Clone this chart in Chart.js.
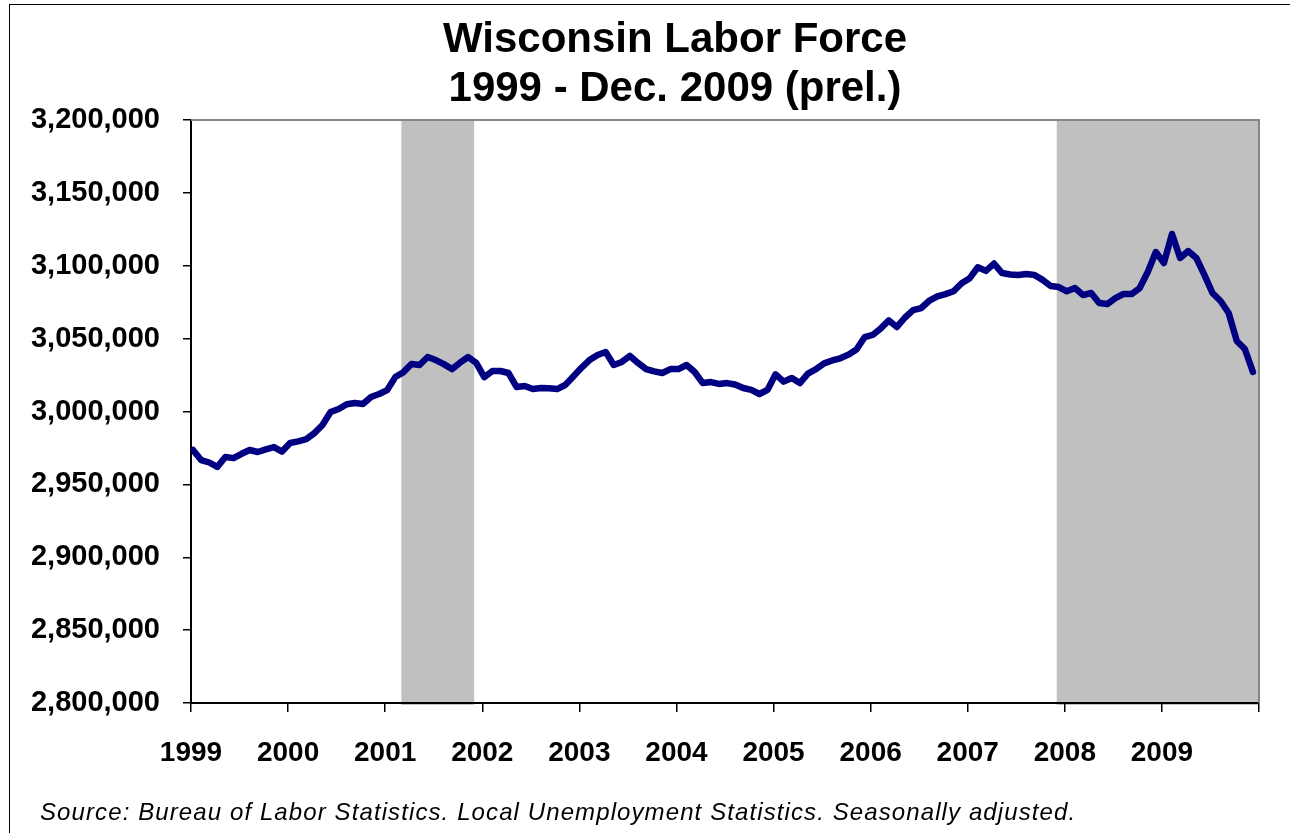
<!DOCTYPE html>
<html lang="en">
<head>
    <meta charset="UTF-8">
    <title>Wisconsin Labor Force</title>
    <script src="https://cdn.jsdelivr.net/npm/chart.js@4.4.0/dist/chart.umd.min.js"></script>
    <style>
        html, body { margin: 0; padding: 0; background: #fff; overflow: hidden; }
        #page { position: relative; width: 1290px; height: 833px; overflow: hidden; background: #fff; }
        #frame { position: absolute; left: 9px; top: 4px; width: 1400px; height: 1000px; border: 1.5px solid #000; box-sizing: border-box; }
        #title { position: absolute; left: 375px; top: 13px; width: 600px; text-align: center; font: bold 42px/49px "Liberation Sans", Arial, sans-serif; color: #000; }
        #source { position: absolute; left: 40px; top: 800px; font: italic 24px/24px "Liberation Sans", Arial, sans-serif; letter-spacing: 1.1px; white-space: nowrap; color: #000; }
        #chart { position: absolute; left: 0; top: 0; }
    </style>
</head>
<body>
<div id="page">
    <div id="frame"></div>
    <canvas id="chart" width="1290" height="833"></canvas>
    <div id="title">Wisconsin Labor Force<br>1999 - Dec. 2009 (prel.)</div>
    <div id="source">Source: Bureau of Labor Statistics. Local Unemployment Statistics. Seasonally adjusted.</div>
</div>
<script>
    // monthly labor force, seasonally adjusted
    const years = ['1999', '2000', '2001', '2002', '2003', '2004', '2005', '2006', '2007', '2008', '2009'];
    const lf1999 = [2973600, 2966700, 2965000, 2962000, 2968800, 2968000, 2971000, 2973600, 2972200, 2974000, 2975600, 2972500];
    const lf2000 = [2978400, 2979500, 2981000, 2985200, 2990700, 2999600, 3001700, 3005000, 3005800, 3005100, 3009900, 3012000];
    const lf2001 = [3014700, 3023600, 3027000, 3032600, 3031900, 3037400, 3035300, 3032500, 3029100, 3033500, 3037400, 3033300];
    const lf2002 = [3023600, 3027800, 3027800, 3026400, 3016800, 3017500, 3015400, 3016100, 3016000, 3015400, 3018200, 3024000];
    const lf2003 = [3030000, 3035300, 3038800, 3040800, 3031900, 3034000, 3038100, 3033300, 3029100, 3027500, 3026400, 3029100];
    const lf2004 = [3029100, 3031900, 3027100, 3019500, 3020200, 3018900, 3019500, 3018500, 3016100, 3014800, 3012000, 3014800];
    const lf2005 = [3025500, 3020500, 3023000, 3019500, 3026000, 3029000, 3033000, 3035000, 3036500, 3039000, 3042500, 3051000];
    const lf2006 = [3052500, 3057000, 3062500, 3058000, 3064500, 3069500, 3071000, 3076000, 3079000, 3080500, 3082500, 3088000];
    const lf2007 = [3091500, 3099000, 3096500, 3101500, 3095000, 3094000, 3093700, 3094300, 3093700, 3090300, 3086100, 3085400];
    const lf2008 = [3082500, 3084700, 3079900, 3081300, 3074400, 3073700, 3077800, 3080600, 3080600, 3084700, 3095700, 3109400];
    const lf2009 = [3101900, 3121800, 3105300, 3110100, 3105300, 3093700, 3081300, 3075800, 3067600, 3048400, 3042900, 3027100];

    // recessions (first month, last month)
    const recessionStart = ['2001-03', '2007-12'];
    const recessionEnd = ['2001-11', '2009-12'];

    const yMin = 2800000, yMax = 3200000, yStep = 50000;

    const laborForce = [].concat(lf1999, lf2000, lf2001, lf2002, lf2003, lf2004, lf2005, lf2006, lf2007, lf2008, lf2009);
    const monthIndex = s => {
        const [y, m] = s.split('-').map(Number);
        return (y - Number(years[0])) * 12 + (m - 1);
    };
    const totalMonths = years.length * 12;
    const points = laborForce.map((v, i) => ({ x: i + 0.25, y: v }));

    const FONT = '"Liberation Sans", Arial, sans-serif';

    const shading = {
        id: 'shading',
        beforeDraw(chart) {
            const { ctx, chartArea, scales } = chart;
            ctx.save();
            ctx.fillStyle = '#C0C0C0';
            recessionStart.forEach((s, k) => {
                const x0 = scales.x.getPixelForValue(monthIndex(s));
                const x1 = scales.x.getPixelForValue(Math.min(monthIndex(recessionEnd[k]) + 1, totalMonths));
                ctx.fillRect(x0, chartArea.top, x1 - x0, chartArea.bottom - chartArea.top + 2);
            });
            ctx.restore();
        },
        afterDraw(chart) {
            // plot area border (top and right)
            const { ctx, chartArea } = chart;
            ctx.save();
            ctx.strokeStyle = '#868686';
            ctx.lineWidth = 2;
            ctx.beginPath();
            ctx.moveTo(chartArea.left, chartArea.top);
            ctx.lineTo(chartArea.right, chartArea.top);
            ctx.lineTo(chartArea.right, chartArea.bottom);
            ctx.stroke();
            ctx.restore();
        }
    };

    new Chart(document.getElementById('chart'), {
        type: 'line',
        data: {
            datasets: [{
                label: 'Labor force',
                data: points,
                borderColor: '#000080',
                borderWidth: 6.5,
                pointRadius: 0,
                tension: 0,
                borderJoinStyle: 'round',
                borderCapStyle: 'round',
                fill: false
            }]
        },
        options: {
            responsive: false,
            animation: false,
            layout: { padding: { top: 120, right: 31, bottom: 0, left: 0 } },
            plugins: { legend: { display: false }, tooltip: { enabled: false }, title: { display: false } },
            scales: {
                x: {
                    type: 'linear',
                    min: 0,
                    max: totalMonths,
                    afterFit: s => { s.height = 130; },
                    border: { display: true, color: '#000', width: 2 },
                    grid: { drawOnChartArea: false, drawTicks: true, tickLength: 9, color: '#000', lineWidth: 1.5 },
                    ticks: {
                        stepSize: 12,
                        autoSkip: false,
                        maxRotation: 0,
                        padding: 24,
                        color: '#000',
                        font: { family: FONT, size: 28, weight: 'bold' },
                        callback: v => years[v / 12] || ''
                    }
                },
                y: {
                    min: yMin,
                    max: yMax,
                    afterFit: s => { s.width = 191; },
                    border: { display: true, color: '#000', width: 2 },
                    grid: { drawOnChartArea: false, drawTicks: true, tickLength: 8, color: '#000', lineWidth: 1.5 },
                    ticks: {
                        stepSize: yStep,
                        padding: 23,
                        color: '#000',
                        font: { family: FONT, size: 29, weight: 'bold' },
                        callback: v => v.toLocaleString('en-US')
                    }
                }
            }
        },
        plugins: [shading]
    });
</script>
</body>
</html>
